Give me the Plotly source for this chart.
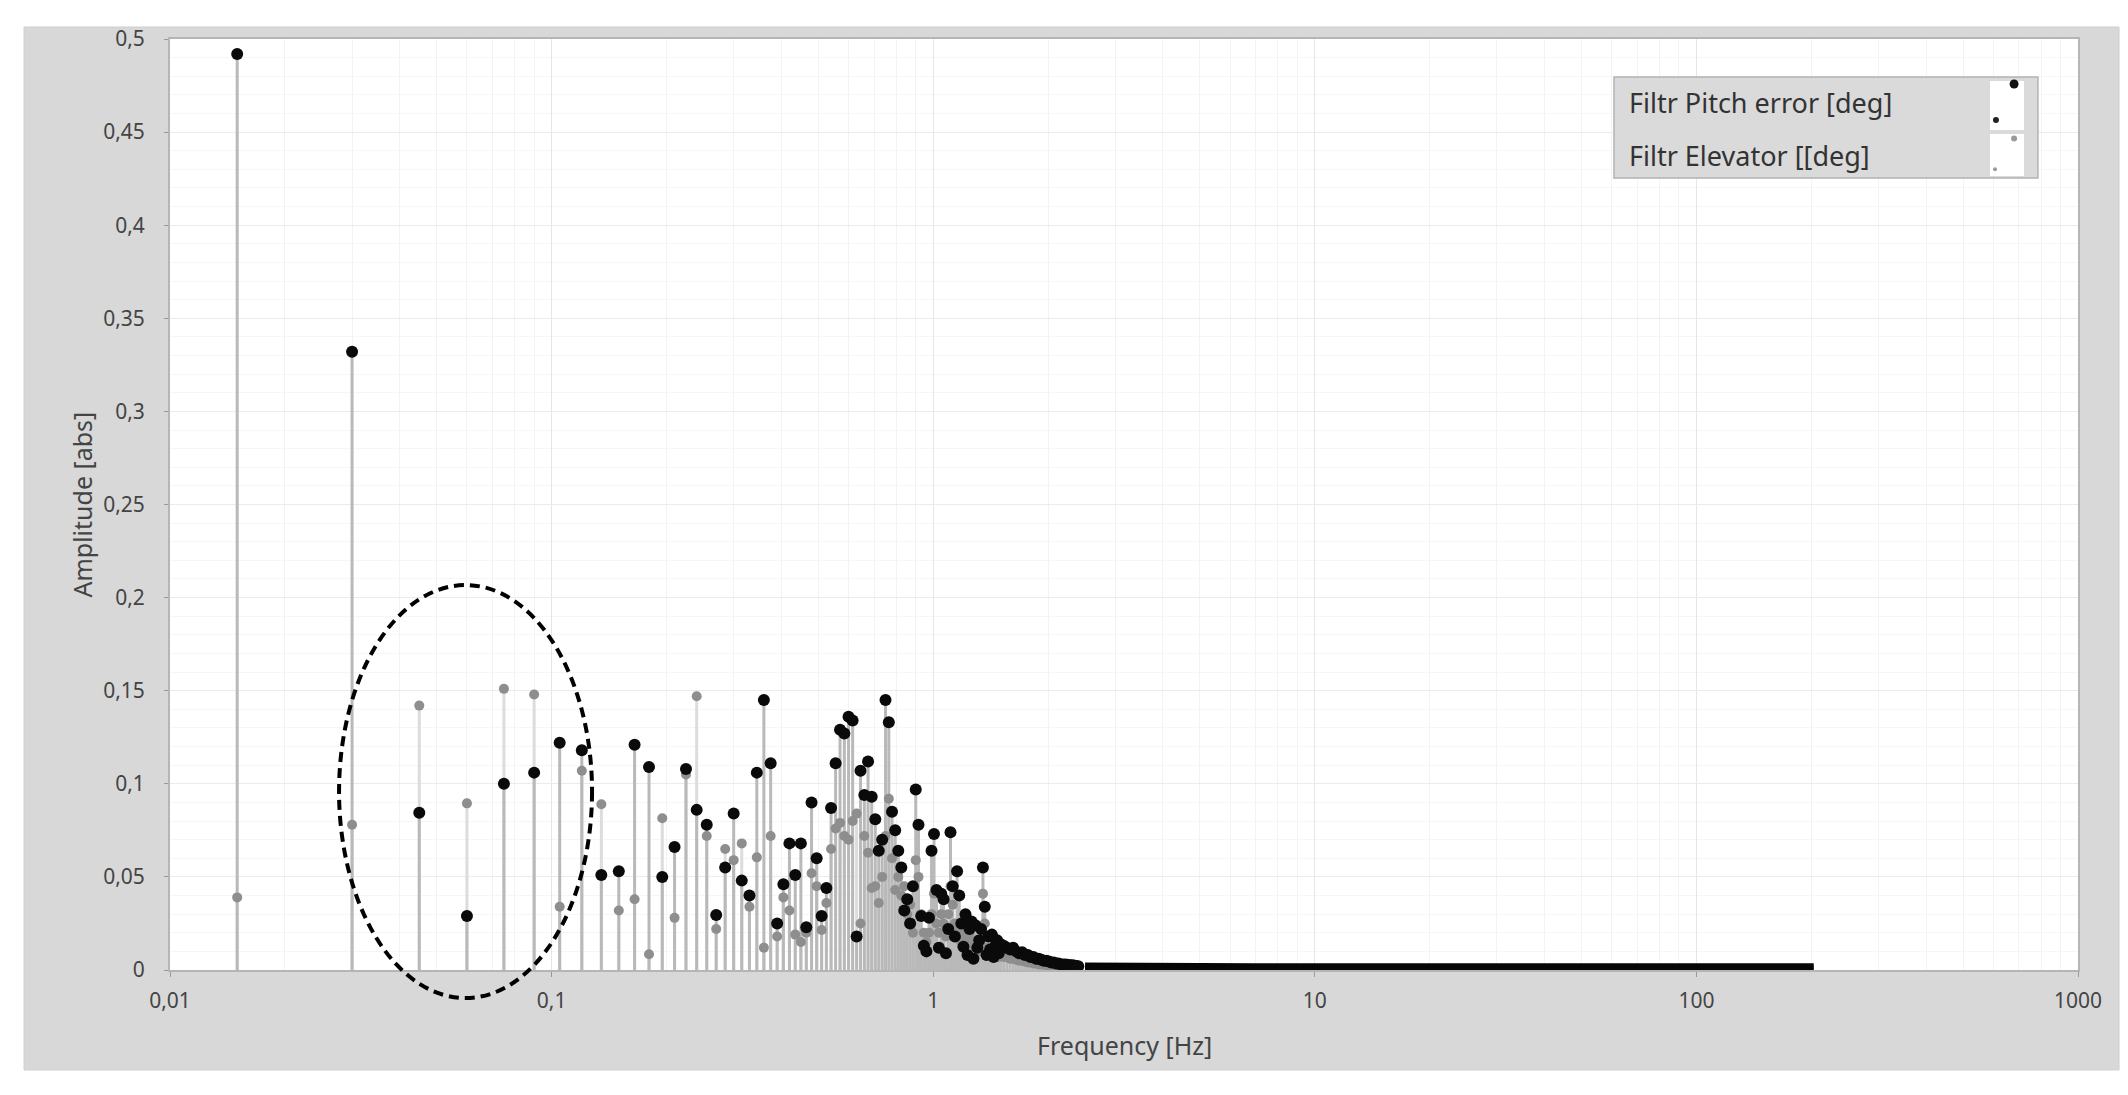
import plotly.graph_objects as go

# FFT bins (Hz) up to 1.5 Hz, then every second bin up to 2.4 Hz
freq_hz = [0.015, 0.03, 0.045, 0.06, 0.075, 0.09, 0.105, 0.12, 0.135, 0.15,
           0.165, 0.18, 0.195, 0.21, 0.225, 0.24, 0.255, 0.27, 0.285, 0.3,
           0.315, 0.33, 0.345, 0.36, 0.375, 0.39, 0.405, 0.42, 0.435, 0.45,
           0.465, 0.48, 0.495, 0.51, 0.525, 0.54, 0.555, 0.57, 0.585, 0.6,
           0.615, 0.63, 0.645, 0.66, 0.675, 0.69, 0.705, 0.72, 0.735, 0.75,
           0.765, 0.78, 0.795, 0.81, 0.825, 0.84, 0.855, 0.87, 0.885, 0.9,
           0.915, 0.93, 0.945, 0.96, 0.975, 0.99, 1.005, 1.02, 1.035, 1.05,
           1.065, 1.08, 1.095, 1.11, 1.125, 1.14, 1.155, 1.17, 1.185, 1.2,
           1.215, 1.23, 1.245, 1.26, 1.275, 1.29, 1.305, 1.32, 1.335, 1.35,
           1.365, 1.38, 1.395, 1.41, 1.425, 1.44, 1.455, 1.47, 1.485, 1.5,
           1.53, 1.56, 1.59, 1.62, 1.65, 1.68, 1.71, 1.74, 1.77, 1.8,
           1.83, 1.86, 1.89, 1.92, 1.95, 1.98, 2.01, 2.04, 2.07, 2.1,
           2.13, 2.16, 2.19, 2.22, 2.25, 2.28, 2.31, 2.34, 2.37, 2.4]

pitch_amp = [0.492, 0.332, 0.0845, 0.029, 0.100, 0.106, 0.122, 0.118, 0.051, 0.053,
             0.121, 0.109, 0.050, 0.066, 0.108, 0.086, 0.078, 0.0295, 0.055, 0.084,
             0.048, 0.040, 0.106, 0.145, 0.111, 0.025, 0.046, 0.068, 0.051, 0.068,
             0.023, 0.090, 0.060, 0.029, 0.044, 0.087, 0.111, 0.129, 0.127, 0.136,
             0.134, 0.018, 0.107, 0.094, 0.112, 0.093, 0.081, 0.064, 0.070, 0.145,
             0.133, 0.085, 0.075, 0.064, 0.055, 0.032, 0.038, 0.025, 0.045, 0.097,
             0.078, 0.029, 0.013, 0.010, 0.028, 0.064, 0.073, 0.043, 0.012, 0.041,
             0.038, 0.009, 0.022, 0.074, 0.045, 0.018, 0.053, 0.040, 0.025, 0.0125,
             0.030, 0.008, 0.022, 0.026, 0.006, 0.024, 0.012, 0.016, 0.022, 0.055,
             0.034, 0.008, 0.018, 0.011, 0.019, 0.007, 0.013, 0.016, 0.009, 0.014,
             0.013, 0.012, 0.011, 0.012, 0.010, 0.009, 0.0095, 0.008, 0.008, 0.007,
             0.007, 0.006, 0.006, 0.0055, 0.005, 0.005, 0.0045, 0.004, 0.004, 0.0035,
             0.0035, 0.003, 0.003, 0.003, 0.0028, 0.0026, 0.0025, 0.0024, 0.0022, 0.002]

elev_amp = [0.039, 0.078, 0.142, 0.0895, 0.151, 0.148, 0.034, 0.107, 0.089, 0.032,
            0.038, 0.0085, 0.0815, 0.028, 0.105, 0.147, 0.072, 0.022, 0.065, 0.059,
            0.068, 0.034, 0.0605, 0.012, 0.072, 0.018, 0.039, 0.032, 0.019, 0.015,
            0.020, 0.052, 0.045, 0.0215, 0.036, 0.065, 0.076, 0.079, 0.072, 0.070,
            0.080, 0.084, 0.025, 0.072, 0.063, 0.044, 0.045, 0.036, 0.050, 0.072,
            0.092, 0.060, 0.043, 0.050, 0.040, 0.045, 0.030, 0.035, 0.020, 0.059,
            0.050, 0.030, 0.020, 0.015, 0.020, 0.030, 0.041, 0.025, 0.020, 0.030,
            0.025, 0.018, 0.030, 0.045, 0.035, 0.025, 0.020, 0.022, 0.015, 0.020,
            0.018, 0.015, 0.020, 0.014, 0.016, 0.012, 0.015, 0.010, 0.012, 0.041,
            0.025, 0.012, 0.010, 0.010, 0.009, 0.008, 0.009, 0.008, 0.007, 0.008,
            0.007, 0.007, 0.006, 0.006, 0.0055, 0.005, 0.005, 0.0045, 0.004, 0.004,
            0.0035, 0.0035, 0.003, 0.003, 0.003, 0.0025, 0.0025, 0.0022, 0.002, 0.002,
            0.0018, 0.0018, 0.0016, 0.0015, 0.0015, 0.0014, 0.0013, 0.0012, 0.0012, 0.0011]

# flat high-frequency tail (dense bins, read as a band)
tail_freq = [2.5, 2.7, 3, 3.3, 3.7, 4, 4.5, 5, 6, 7, 8, 9, 10, 12, 14, 17, 20,
             25, 30, 35, 40, 50, 60, 70, 80, 90, 100, 120, 140, 160, 180, 195, 203]
tail_pitch = [0.0019, 0.0018, 0.0017, 0.0016, 0.0016, 0.0015, 0.0015, 0.0015, 0.0015,
              0.0015, 0.0015, 0.0015, 0.0015, 0.0015, 0.0015, 0.0015, 0.0015, 0.0015,
              0.0015, 0.0015, 0.0015, 0.0015, 0.0015, 0.0015, 0.0015, 0.0015, 0.0015,
              0.0015, 0.0015, 0.0015, 0.0015, 0.0015, 0.0015]
tail_elev = [0.0010] * len(tail_freq)

x_ticks = [0.01, 0.1, 1, 10, 100, 1000]
x_ticktext = ["0,01", "0,1", "1", "10", "100", "1000"]
y_ticks = [0, 0.05, 0.1, 0.15, 0.2, 0.25, 0.3, 0.35, 0.4, 0.45, 0.5]
y_ticktext = ["0", "0,05", "0,1", "0,15", "0,2", "0,25", "0,3", "0,35", "0,4", "0,45", "0,5"]

FONT = "Noto Sans"


def stems(xs, ys):
    sx, sy = [], []
    for f, a in zip(xs, ys):
        sx += [f, f, None]
        sy += [0, a, None]
    return sx, sy


fig = go.Figure()

ex, ey = stems(freq_hz, elev_amp)
fig.add_trace(go.Scatter(x=ex, y=ey, mode="lines", line=dict(color="#dcdcdc", width=3),
                         hoverinfo="skip", showlegend=False))
px_, py_ = stems(freq_hz, pitch_amp)
fig.add_trace(go.Scatter(x=px_, y=py_, mode="lines", line=dict(color="#b9b9b9", width=3),
                         hoverinfo="skip", showlegend=False))

fig.add_trace(go.Scatter(x=tail_freq, y=tail_elev, mode="lines",
                         line=dict(color="#888888", width=6), showlegend=False))
fig.add_trace(go.Scatter(x=freq_hz, y=elev_amp, mode="markers", name="Filtr Elevator [[deg]",
                         marker=dict(color="#8e8e8e", size=10), showlegend=False))
fig.add_trace(go.Scatter(x=tail_freq, y=tail_pitch, mode="lines",
                         line=dict(color="#050505", width=8), showlegend=False))
fig.add_trace(go.Scatter(x=freq_hz, y=pitch_amp, mode="markers", name="Filtr Pitch error [deg]",
                         marker=dict(color="#0a0a0a", size=12), showlegend=False))

shapes = [
    # grey LabVIEW-style frame and white plot area
    dict(type="rect", xref="paper", yref="paper", x0=-0.0765, x1=1.0215, y0=-0.1074, y1=1.0129,
         fillcolor="#d8d8d8", line=dict(color="#cfcfcf", width=1), layer="below"),
    dict(type="rect", xref="paper", yref="paper", x0=0, x1=1, y0=0, y1=1,
         fillcolor="white", line=dict(width=0), layer="below"),
    # dashed ellipse highlight
    dict(type="circle", xref="paper", yref="paper", x0=0.0886, x1=0.2212, y0=-0.0301, y1=0.4135,
         line=dict(color="black", width=4, dash="10px,6px"), layer="above"),
    # legend box
    dict(type="rect", xref="paper", yref="paper", x0=0.7568, x1=0.979, y0=0.8507, y1=0.9592,
         fillcolor="#dadada", line=dict(color="#b3b3b3", width=1.5), layer="above"),
    dict(type="rect", xref="paper", yref="paper", x0=0.9539, x1=0.9717, y0=0.9023, y1=0.9549,
         fillcolor="white", line=dict(width=0), layer="above"),
    dict(type="rect", xref="paper", yref="paper", x0=0.9539, x1=0.9717, y0=0.8529, y1=0.898,
         fillcolor="white", line=dict(width=0), layer="above"),
]
icon_dots = [(0.9665, 0.9517, 4.5, "#111111"), (0.9570, 0.9130, 3, "#222222"),
             (0.9665, 0.8930, 3, "#9a9a9a"), (0.9565, 0.8600, 2, "#9a9a9a")]
for xa, ya, r, c in icon_dots:
    shapes.append(dict(type="circle", xref="paper", yref="paper", xsizemode="pixel",
                       ysizemode="pixel", xanchor=xa, yanchor=ya, x0=-r, x1=r, y0=-r, y1=r,
                       fillcolor=c, line=dict(width=0), layer="above"))

annotations = [
    dict(text="Filtr Pitch error [deg]", xref="paper", yref="paper", x=0.7634, y=0.9313,
         xanchor="left", yanchor="middle", showarrow=False,
         font=dict(family=FONT, size=27, color="#333333")),
    dict(text="Filtr Elevator [[deg]", xref="paper", yref="paper", x=0.7634, y=0.8754,
         xanchor="left", yanchor="middle", showarrow=False,
         font=dict(family=FONT, size=27, color="#333333")),
    dict(text="Amplitude [abs]", xref="paper", yref="paper", x=-0.0466, y=0.5, textangle=-90,
         xanchor="center", yanchor="middle", showarrow=False,
         font=dict(family=FONT, size=25, color="#444444")),
    dict(text="Frequency [Hz]", xref="paper", yref="paper", x=0.5, y=-0.0806,
         xanchor="center", yanchor="middle", showarrow=False,
         font=dict(family=FONT, size=25, color="#444444")),
]

fig.update_layout(
    width=2128, height=1095,
    margin=dict(l=162, r=58, t=31, b=133),
    paper_bgcolor="white", plot_bgcolor="white",
    shapes=shapes, annotations=annotations,
    font=dict(family=FONT, size=21, color="#444444"),
)
fig.update_xaxes(
    type="log", range=[-2, 3], tickvals=x_ticks, ticktext=x_ticktext,
    showgrid=True, gridcolor="#e6e6e6", gridwidth=1,
    minor=dict(dtick="D1", showgrid=True, gridcolor="#f3f3f3", ticks=""),
    showline=True, linecolor="#b5b5b5", linewidth=2, mirror=True,
    ticks="outside", ticklen=5, tickcolor="#999999", ticklabelstandoff=6,
    zeroline=False, tickfont=dict(family=FONT, size=21, color="#444444"),
)
fig.update_yaxes(
    range=[0, 0.5], tickvals=y_ticks, ticktext=y_ticktext,
    showgrid=True, gridcolor="#ebebeb", gridwidth=1,
    minor=dict(tickmode="linear", tick0=0, dtick=0.01, showgrid=True, gridcolor="#f6f6f6", ticks=""),
    showline=True, linecolor="#b5b5b5", linewidth=2, mirror=True,
    ticks="outside", ticklen=4, tickcolor="#999999", ticklabelstandoff=15,
    zeroline=False, tickfont=dict(family=FONT, size=21, color="#444444"),
)

fig.write_html("out.html")
